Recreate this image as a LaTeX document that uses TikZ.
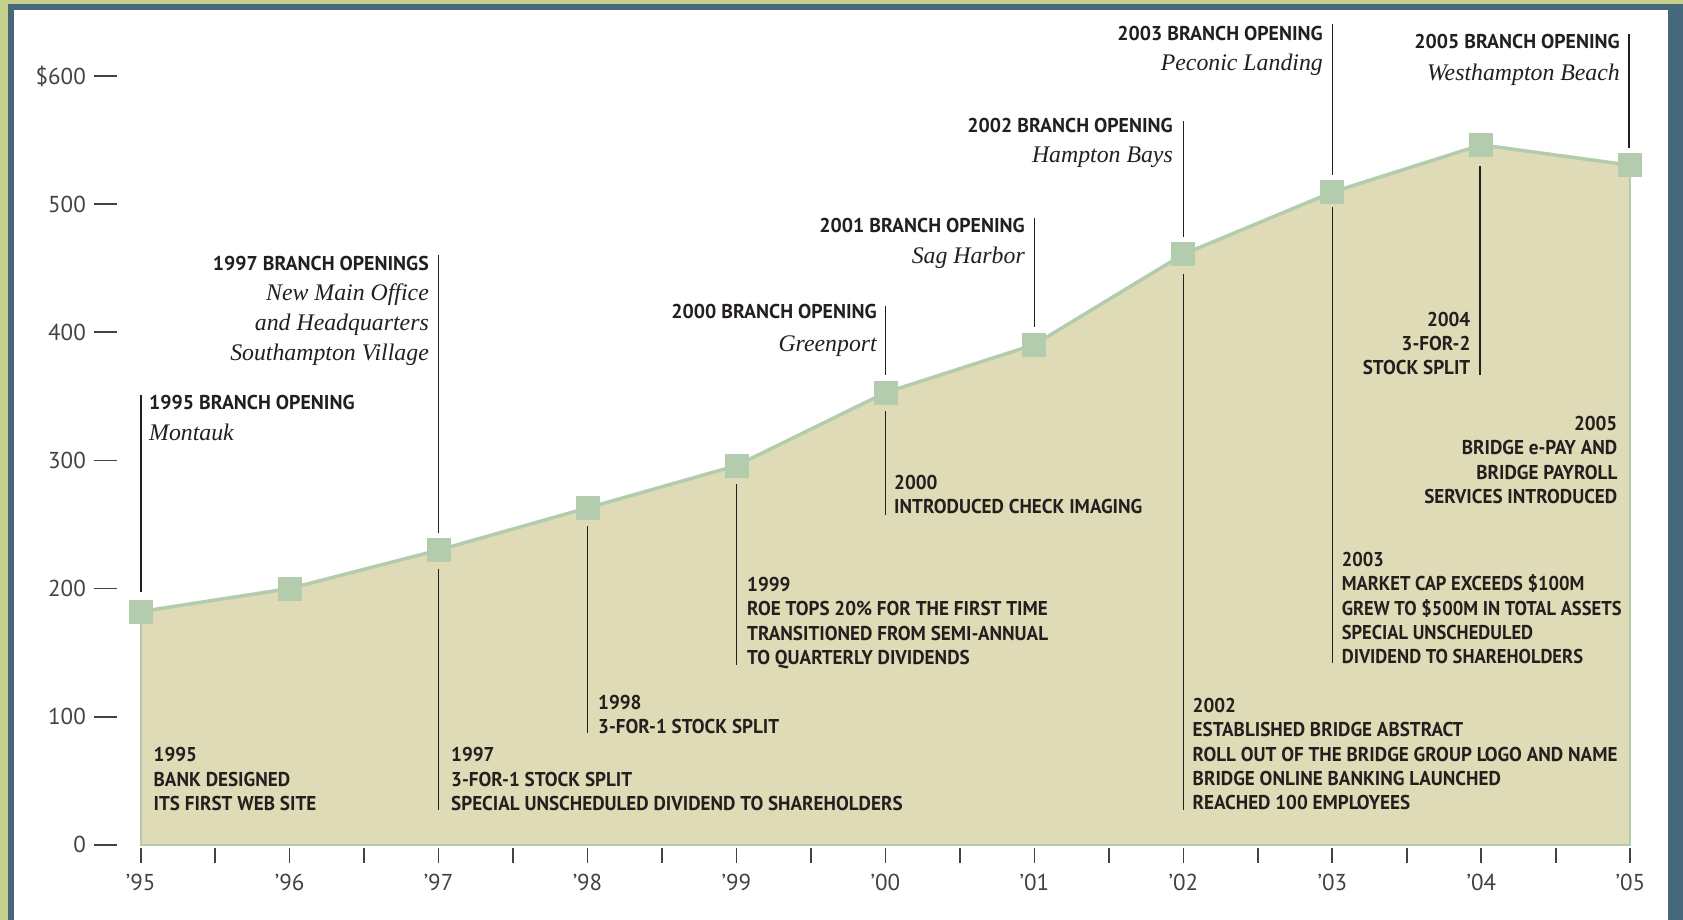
\documentclass[tikz,border=0pt]{standalone}
\usepackage{fontspec}
\setmainfont{PT Sans}
\newfontfamily\capsf[FakeStretch=0.955]{PT Sans}
\newfontfamily\capsn[FakeStretch=0.925]{PT Sans}
\newfontfamily\hdrf[FakeStretch=0.99]{PT Sans}
\newfontfamily\itf{Liberation Serif}
\definecolor{framegreen}{HTML}{C5D08A}
\definecolor{frameblue}{HTML}{47687A}
\definecolor{areafill}{HTML}{DFDBB6}
\definecolor{sage}{HTML}{B4CCAE}
\definecolor{ink}{HTML}{231F1F}
\tikzset{
  caps/.style={font=\capsf\bfseries\fontsize{20}{24.3}\selectfont, text=ink, inner sep=0pt},
  capsnarrow/.style={font=\capsn\bfseries\fontsize{20}{24.3}\selectfont, text=ink, inner sep=0pt},
  hdr/.style={font=\hdrf\bfseries\fontsize{20}{24.3}\selectfont, text=ink, inner sep=0pt},
  ital/.style={font=\itf\itshape\fontsize{23.8}{30}\selectfont, text=ink, inner sep=0pt},
  axlab/.style={font=\fontsize{23}{24}\selectfont, text=ink!85, inner sep=0pt},
  leader/.style={draw=ink, line width=1.8pt},
  tickmark/.style={draw=ink!85, line width=1.8pt},
  sq/.style={rectangle, fill=sage, minimum size=24pt, inner sep=0pt},
}
\begin{document}
\begin{tikzpicture}[x=1pt,y=-1pt]
\useasboundingbox (0,0) rectangle (1683,920);
\fill[framegreen] (0,0) rectangle (1683,920);
\fill[frameblue] (8,4) rectangle (1683,920);
\fill[white] (14,10) rectangle (1668,920);

% data points
\coordinate (d0) at (140.6,611.6);
\coordinate (d1) at (289.6,588.5);
\coordinate (d2) at (438.5,550.1);
\coordinate (d3) at (587.5,507.9);
\coordinate (d4) at (736.5,465.6);
\coordinate (d5) at (885.5,392.6);
\coordinate (d6) at (1034.4,344.6);
\coordinate (d7) at (1183.4,254.2);
\coordinate (d8) at (1332.4,192.1);
\coordinate (d9) at (1481.3,144.9);
\coordinate (d10) at (1630.3,165.2);
\coordinate (b0) at (140.6,844.7);
\coordinate (b10) at (1630.3,844.7);

\fill[areafill] (b0) -- (d0) -- (d1) -- (d2) -- (d3) -- (d4) -- (d5) -- (d6) -- (d7) -- (d8) -- (d9) -- (d10) -- (b10) -- cycle;
\draw[sage, line width=2pt] (d0) -- (b0) -- (b10) -- (d10);
\draw[sage, line width=3.5pt, line join=round] (d0) -- (d1) -- (d2) -- (d3) -- (d4) -- (d5) -- (d6) -- (d7) -- (d8) -- (d9) -- (d10);
\foreach \i in {0,...,10} \node[sq] (p\i) at (d\i) {};

% x ticks and labels
\foreach \k in {0,...,20} \draw[tickmark] ({140.6+74.485*\k},848) -- ++(0,15);
\foreach \i/\y in {0/95,1/96,2/97,3/98,4/99,5/00,6/01,7/02,8/03,9/04,10/05}
  \node[axlab, anchor=base] (yr\i) at ({140.6+148.97*\i},890) {’\y};

% y ticks and labels
\foreach \v/\l in {0/0,100/100,200/200,300/300,400/400,500/500,600/{\$600}} {
  \node[axlab, anchor=east] (yl\v) at (86,{844.7-1.2808*\v}) {\l};
  \draw[tickmark] (94,{844.7-1.2808*\v}) -- (117,{844.7-1.2808*\v});
}

% upper leaders
\coordinate (u95a) at (140.6,395); \coordinate (u95b) at (140.6,592);
\coordinate (u97a) at (438.5,255.4); \coordinate (u97b) at (438.5,533.4);
\coordinate (u00a) at (885.5,305.9); \coordinate (u00b) at (885.5,374.6);
\coordinate (u01a) at (1034.4,217.9); \coordinate (u01b) at (1034.4,327.4);
\coordinate (u02a) at (1183.4,121.3); \coordinate (u02b) at (1183.4,237.2);
\coordinate (u03a) at (1332.4,23.6); \coordinate (u03b) at (1332.4,175);
\coordinate (u05a) at (1629,34.3); \coordinate (u05b) at (1629,148);
\foreach \n in {95,97,00,01,02,03,05} \draw[leader] (u\n a) -- (u\n b);

% lower leaders
\coordinate (l97a) at (438.5,568.8); \coordinate (l97b) at (438.5,810.3);
\coordinate (l98a) at (587.5,526); \coordinate (l98b) at (587.5,733);
\coordinate (l99a) at (736.5,484); \coordinate (l99b) at (736.5,665.4);
\coordinate (l00a) at (885.5,411); \coordinate (l00b) at (885.5,515.2);
\coordinate (l02a) at (1183.4,273.7); \coordinate (l02b) at (1183.4,810.3);
\coordinate (l03a) at (1332.4,207); \coordinate (l03b) at (1332.4,663.3);
\coordinate (l04a) at (1480,166.4); \coordinate (l04b) at (1480,374.6);
\foreach \n in {97,98,99,00,02,03,04} \draw[leader] (l\n a) -- (l\n b);

% branch openings
\node[hdr, anchor=base west] (h95) at (149,409.5) {1995 BRANCH OPENING};
\node[ital, anchor=base west] (i95) at (149,440) {Montauk};
\node[hdr, anchor=base east] (h97) at (429,270) {1997 BRANCH OPENINGS};
\node[ital, anchor=base east] (i97a) at (429,300.5) {New Main Office};
\node[ital, anchor=base east] (i97b) at (429,330.5) {and Headquarters};
\node[ital, anchor=base east] (i97c) at (429,360.5) {Southampton Village};
\node[hdr, anchor=base east] (h00) at (877,318) {2000 BRANCH OPENING};
\node[ital, anchor=base east] (i00) at (877,351) {Greenport};
\node[hdr, anchor=base east] (h01) at (1025,232.4) {2001 BRANCH OPENING};
\node[ital, anchor=base east] (i01) at (1025,263) {Sag Harbor};
\node[hdr, anchor=base east] (h02) at (1173,132.6) {2002 BRANCH OPENING};
\node[ital, anchor=base east] (i02) at (1173,163) {Hampton Bays};
\node[hdr, anchor=base east] (h03) at (1323,40.3) {2003 BRANCH OPENING};
\node[ital, anchor=base east] (i03) at (1323,71) {Peconic Landing};
\node[hdr, anchor=base east] (h05) at (1620,48.9) {2005 BRANCH OPENING};
\node[ital, anchor=base east] (i05) at (1620,80.5) {Westhampton Beach};

% events
\node[caps, align=left, anchor=north west] (e95) at (153.5,747.5) {1995\\BANK DESIGNED\\ITS FIRST WEB SITE};
\node[caps, align=left, anchor=north west] (e97) at (451,747.5) {1997\\3-FOR-1 STOCK SPLIT\\SPECIAL UNSCHEDULED DIVIDEND TO SHAREHOLDERS};
\node[caps, align=left, anchor=north west] (e98) at (598,695) {1998\\3-FOR-1 STOCK SPLIT};
\node[caps, align=left, anchor=north west] (e99) at (747,577) {1999\\ROE TOPS 20\% FOR THE FIRST TIME\\TRANSITIONED FROM SEMI-ANNUAL\\TO QUARTERLY DIVIDENDS};
\node[caps, align=left, anchor=north west] (e00) at (894,475) {2000\\INTRODUCED CHECK IMAGING};
\node[caps, align=left, anchor=north west] (e02) at (1192.5,698) {2002\\ESTABLISHED BRIDGE ABSTRACT\\ROLL OUT OF THE BRIDGE GROUP LOGO AND NAME\\BRIDGE ONLINE BANKING LAUNCHED\\REACHED 100 EMPLOYEES};
\node[capsnarrow, align=left, anchor=north west] (e03) at (1341.6,552) {2003\\MARKET CAP EXCEEDS \$100M\\GREW TO \$500M IN TOTAL ASSETS\\SPECIAL UNSCHEDULED\\DIVIDEND TO SHAREHOLDERS};
\node[caps, align=right, anchor=north east] (e04) at (1470.5,311.8) {2004\\3-FOR-2\\STOCK SPLIT};
\node[caps, align=right, anchor=north east] (e05) at (1617.5,416) {2005\\BRIDGE e-PAY AND\\BRIDGE PAYROLL\\SERVICES INTRODUCED};
\end{tikzpicture}
\end{document}
